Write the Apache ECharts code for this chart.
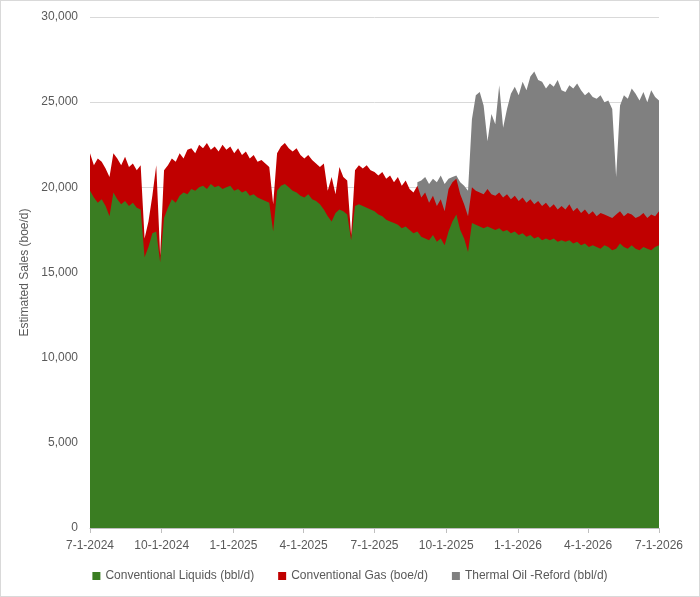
<!DOCTYPE html>
<html>
<head>
<meta charset="utf-8">
<script src="https://cdn.jsdelivr.net/npm/echarts@6/dist/echarts.min.js"></script>
<style>
    html, body { margin: 0; padding: 0; background: #fff; }
    #grafico { width: 700px; height: 597px; box-sizing: border-box; border: 1px solid #d9d9d9; }
</style>
</head>
<body>
<div id="grafico"></div>
<script>
// one reading every 5 days, starting 7-1-2024
var startDate = Date.UTC(2024, 6, 1);
var stepDays = 5;

var liquids = [
    19800, 19400, 19100, 19300, 18900, 18300, 19700, 19300, 19000, 19200,
    18900, 19100, 18800, 18700, 15900, 16500, 17300, 17400, 15600, 18200,
    18800, 19300, 19100, 19500, 19700, 19600, 19900, 19800, 20000, 20100,
    19900, 20200, 20000, 20100, 19900, 20000, 20100, 19800, 19900, 19700,
    19800, 19500, 19600, 19400, 19300, 19200, 19100, 17400, 19800, 20100,
    20200, 20000, 19800, 19700, 19500, 19400, 19600, 19300, 19200, 19000,
    18700, 18300, 18000, 18500, 18700, 18600, 18400, 16900, 18900, 19000,
    18900, 18800, 18700, 18600, 18400, 18300, 18100, 18000, 17900, 17800,
    17600, 17700, 17500, 17300, 17400, 17100, 17000, 16900, 17200, 16800,
    17000, 16600, 17400, 18000, 18400, 17500, 17000, 16200, 17900, 17800,
    17700, 17600, 17700, 17600, 17500, 17600, 17400, 17500, 17300, 17400,
    17200, 17300, 17100, 17200, 17000, 17100, 16900, 17000, 16900, 17000,
    16800, 16900, 16800, 16900, 16700, 16800, 16600, 16700, 16500, 16600,
    16500, 16400, 16600, 16500, 16300, 16400, 16700, 16500, 16400, 16600,
    16400, 16300, 16500, 16400, 16300, 16500, 16600
];

var gas = [
    2200, 1900, 2600, 2200, 2200, 2300, 2300, 2400, 2300, 2600,
    2300, 2300, 2200, 2600, 1100, 1500, 2200, 3900, 400, 2800,
    2500, 2400, 2400, 2500, 2000, 2600, 2400, 2200, 2500, 2200,
    2700, 2000, 2400, 2000, 2600, 2200, 2300, 2200, 2400, 2200,
    2300, 2200, 2300, 2100, 2300, 2200, 2100, 1600, 2200, 2300,
    2400, 2300, 2300, 2600, 2400, 2300, 2300, 2300, 2200, 2200,
    2700, 1500, 2600, 1100, 2500, 2000, 2000, 300, 2100, 2300,
    2200, 2500, 2300, 2300, 2300, 2600, 2400, 2700, 2400, 2800,
    2500, 2700, 2400, 2400, 2700, 2300, 2700, 2200, 2300, 2100,
    2300, 2000, 2500, 2300, 2100, 2100, 2000, 2100, 2100, 2000,
    2000, 2000, 2200, 2000, 2000, 2100, 2000, 2100, 2000, 2100,
    2000, 2100, 2000, 2100, 2000, 2100, 2000, 2100, 1900, 2000,
    1900, 2000, 1900, 2100, 1900, 2000, 1900, 2000, 1900, 2000,
    1800, 2100, 1800, 1800, 1900, 2000, 1900, 1800, 2100, 1800,
    1800, 2000, 2000, 1800, 2100, 1800, 2000
];

// thermal production starts at reading no. 84 (late Sep 2025)
var thermalStart = 84;
var thermal = [
    200, 1000, 900, 1100, 1000, 1400,
    1400, 1600, 600, 300, 200, 700, 1100, 1500, 4000, 5600,
    5900, 5200, 2800, 4700, 4200, 6300, 4100, 5000, 6200, 6400,
    6200, 6800, 6600, 7200, 7800, 7100, 7300, 6700, 7300, 6900,
    7600, 6800, 6900, 7000, 7200, 7300, 7200, 6700, 7200, 6700,
    6900, 6900, 6600, 6800, 6400, 2200, 6200, 7100, 6700, 7400,
    7300, 6800, 7100, 6800, 7300, 7000, 6500
];

var tickDates = [
    Date.UTC(2024, 6, 1), Date.UTC(2024, 9, 1), Date.UTC(2025, 0, 1),
    Date.UTC(2025, 3, 1), Date.UTC(2025, 6, 1), Date.UTC(2025, 9, 1),
    Date.UTC(2026, 0, 1), Date.UTC(2026, 3, 1), Date.UTC(2026, 6, 1)
];

var seriesNames = ['Conventional Liquids (bbl/d)', 'Conventional Gas (boe/d)', 'Thermal Oil -Reford (bbl/d)'];
var seriesColors = ['#3a7d22', '#c00000', '#808080'];

function dia(i) {
    return startDate + i * stepDays * 86400000;
}

// stacked by hand: each area is filled down to zero, upper layers drawn first
var liquidsTop = liquids.map(function(v, i) { return [dia(i), v]; });
var gasTop = liquids.map(function(v, i) { return [dia(i), v + gas[i]]; });
var thermalTop = liquids.map(function(v, i) {
    var t = i >= thermalStart ? v + gas[i] + thermal[i - thermalStart] : null;
    return [dia(i), t];
});

function area(name, color, data, z) {
    return {
        name: name,
        type: 'line',
        data: data,
        z: z,
        symbol: 'none',
        lineStyle: { width: 0 },
        areaStyle: { color: color, opacity: 1, origin: 'start' },
        itemStyle: { color: color },
        emphasis: { disabled: true }
    };
}

var chartDom = document.getElementById('grafico');
var myChart = echarts.init(chartDom);
var option;

option = {
    animation: false,
    textStyle: { fontFamily: 'Liberation Sans, Arial, sans-serif' },
    grid: {
        left: 89,
        right: 40,
        top: 16,
        bottom: 68
    },
    legend: {
        bottom: 9,
        left: 'center',
        icon: 'rect',
        itemWidth: 8,
        itemHeight: 8,
        itemGap: 24,
        textStyle: { color: '#595959', fontSize: 12 },
        data: seriesNames
    },
    xAxis: {
        type: 'value',
        min: tickDates[0],
        max: tickDates[tickDates.length - 1],
        axisLine: { lineStyle: { color: '#bfbfbf' } },
        axisTick: {
            show: true,
            length: 5,
            customValues: tickDates,
            lineStyle: { color: '#bfbfbf' }
        },
        axisLabel: {
            color: '#595959',
            fontSize: 12,
            margin: 12,
            customValues: tickDates,
            formatter: function(v) {
                var d = new Date(v);
                return (d.getUTCMonth() + 1) + '-' + d.getUTCDate() + '-' + d.getUTCFullYear();
            }
        },
        splitLine: { show: false }
    },
    yAxis: {
        type: 'value',
        min: 0,
        max: 30000,
        interval: 5000,
        name: 'Estimated Sales (boe/d)',
        nameLocation: 'middle',
        nameGap: 52,
        nameTextStyle: { color: '#595959', fontSize: 12 },
        axisLine: { show: false },
        axisTick: { show: false },
        axisLabel: {
            color: '#595959',
            fontSize: 12,
            margin: 12,
            formatter: function(v) { return v.toLocaleString('en-US'); }
        },
        splitLine: { lineStyle: { color: '#d9d9d9' } }
    },
    series: [
        area(seriesNames[2], seriesColors[2], thermalTop, 2),
        area(seriesNames[1], seriesColors[1], gasTop, 3),
        area(seriesNames[0], seriesColors[0], liquidsTop, 4)
    ]
};

option && myChart.setOption(option);
</script>
</body>
</html>
